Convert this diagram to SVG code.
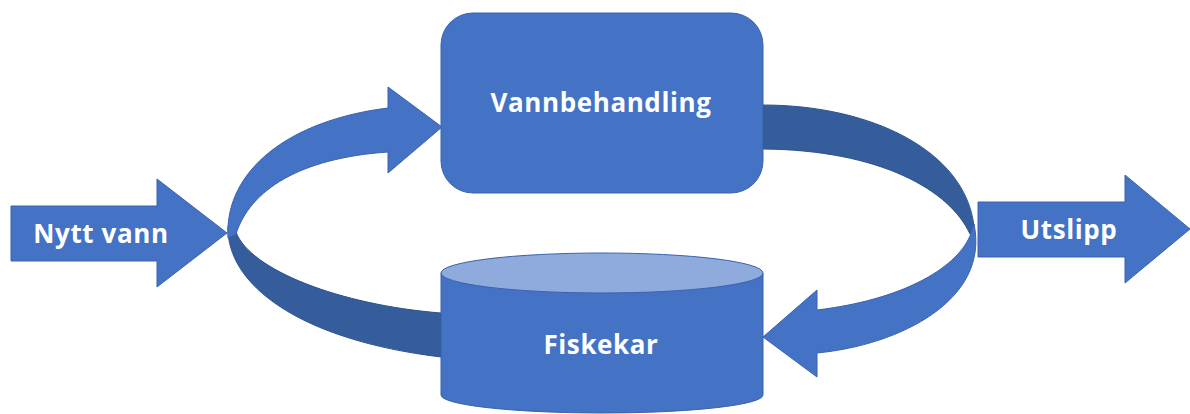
<svg xmlns="http://www.w3.org/2000/svg" width="1190" height="414" viewBox="0 0 1190 414">
<style>
.main{fill:#4472C4;stroke:#3A63AD;stroke-width:1}
.dark{fill:#355D9C;stroke:#2F5390;stroke-width:1}
.top{fill:#8FAADC;stroke:#3A63AD;stroke-width:1}
.lbl{font-family:"Open Sans","Liberation Sans",sans-serif;font-weight:bold;font-size:26px;letter-spacing:0.6px;fill:#FFFFFF;text-anchor:middle}
</style>
<rect width="1190" height="414" fill="#FFFFFF"/>
<g id="connectors">
  <path class="dark" d="M228,226 C226,285 300,340 441,357 L441,313 C340,305 250,270 236,232 Z"/>
  <path class="main" d="M228,238 C224,170 290,120 388,108 L388,87 L442,127 L388,173 L388,152 C300,158 250,190 236,234 Z"/>
  <path class="dark" d="M763,105 C870,105 965,150 974,226 L970,234 C950,190 880,150 763,149 Z"/>
  <path class="main" d="M974,224 C990,300 900,345 817,353 L817,377 L763,337 L817,290 L817,310 C900,300 955,270 970,236 Z"/>
</g>
<g id="node-vannbehandling">
  <rect class="main" x="441" y="13" width="322" height="180" rx="32" ry="32"/>
  <text class="lbl" x="601" y="112">Vannbehandling</text>
</g>
<g id="node-fiskekar">
  <path class="main" d="M441,273 L441,395 A161,18 0 0 0 763,395 L763,273 Z"/>
  <ellipse class="top" cx="602" cy="273" rx="161" ry="20"/>
  <text class="lbl" x="601" y="354">Fiskekar</text>
</g>
<g id="node-nytt-vann">
  <path class="main" d="M11,206 L157,206 L157,179 L227,233 L157,287 L157,261 L11,261 Z"/>
  <text class="lbl" x="101" y="243">Nytt vann</text>
</g>
<g id="node-utslipp">
  <path class="main" d="M978,202 L1125,202 L1125,175 L1190,229 L1125,283 L1125,257 L978,257 Z"/>
  <text class="lbl" x="1069" y="239">Utslipp</text>
</g>
</svg>
